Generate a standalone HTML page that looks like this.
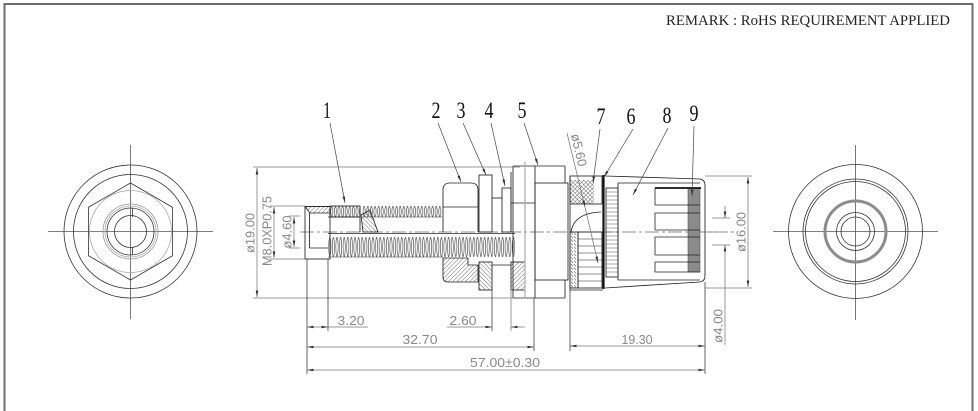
<!DOCTYPE html>
<html><head><meta charset="utf-8"><style>
html,body{margin:0;padding:0;background:#fff;}
svg{display:block;}
</style></head><body>
<svg width="978" height="411" viewBox="0 0 978 411" xmlns="http://www.w3.org/2000/svg">
<defs>
<pattern id="hA" patternUnits="userSpaceOnUse" width="3" height="3" patternTransform="rotate(45)"><line x1="0" y1="0" x2="0" y2="3" stroke="#333" stroke-width="0.7"/></pattern>
<pattern id="hB" patternUnits="userSpaceOnUse" width="3" height="3" patternTransform="rotate(-45)"><line x1="0" y1="0" x2="0" y2="3" stroke="#333" stroke-width="0.7"/></pattern>
<pattern id="thL" patternUnits="userSpaceOnUse" x="328" y="237" width="3.6" height="20"><path d="M1.8,0 C0.3,4 0.3,16 1.8,20 M1.8,0 C3.3,4 3.3,16 1.8,20" fill="none" stroke="#333" stroke-width="0.55"/></pattern>
<pattern id="thU" patternUnits="userSpaceOnUse" x="330" y="206" width="3.6" height="11"><path d="M1.8,0 C0.3,3 0.3,8 1.8,11 M1.8,0 C3.3,3 3.3,8 1.8,11" fill="none" stroke="#333" stroke-width="0.55"/></pattern>
<pattern id="kn" patternUnits="userSpaceOnUse" x="570" y="232" width="7" height="3.5"><path d="M1,0.5 L3,3 M4,0.5 L6,3" stroke="#444" stroke-width="0.6"/></pattern>
<marker id="a" viewBox="0 0 10 4" refX="10" refY="2" markerWidth="7" markerHeight="2.6" orient="auto-start-reverse" markerUnits="userSpaceOnUse"><path d="M0,0 L10,2 L0,4z" fill="#333"/></marker>
</defs>
<rect width="978" height="411" fill="#fff"/>
<path d="M4.5,411 V4 H972.5 V411" fill="none" stroke="#6e6e6e" stroke-width="2"/>
<text x="666" y="25" font-family="Liberation Serif, serif" font-size="15" textLength="284" lengthAdjust="spacingAndGlyphs" fill="#222">REMARK : RoHS REQUIREMENT APPLIED</text>

<!-- LEFT VIEW -->
<g fill="none" stroke="#333" stroke-width="0.8">
<line x1="130.5" y1="145" x2="130.5" y2="319" stroke="#555"/>
<line x1="48" y1="231.5" x2="213" y2="231.5" stroke="#555"/>
<circle cx="130.5" cy="231.5" r="66.5"/>
<circle cx="130.5" cy="231.5" r="57"/>
<polygon points="130.5,183 172.5,207.25 172.5,255.75 130.5,280 88.5,255.75 88.5,207.25"/>
<circle cx="130.5" cy="231.5" r="41" stroke="#aaa"/>
<circle cx="130.5" cy="231.5" r="27.5" stroke="#999"/>
<circle cx="130.5" cy="231.5" r="25.5" stroke="#aaa"/>
<circle cx="130.5" cy="231.5" r="23.5"/>
<circle cx="130.5" cy="231.5" r="16"/>
<line x1="132.5" y1="208" x2="132.5" y2="217"/>
<line x1="132.5" y1="247" x2="132.5" y2="255"/>
</g>

<!-- RIGHT VIEW -->
<g fill="none" stroke="#333" stroke-width="0.8">
<line x1="855.5" y1="145" x2="855.5" y2="320" stroke="#555"/>
<line x1="773" y1="231.5" x2="938" y2="231.5" stroke="#555"/>
<circle cx="855.5" cy="231.5" r="67"/>
<circle cx="855.5" cy="231.5" r="52.5"/>
<circle cx="855.5" cy="231.5" r="50"/>
<circle cx="855.5" cy="231.5" r="30.5" stroke="#8c8c8c" stroke-width="3"/>
<circle cx="855.5" cy="231.5" r="19"/>
<circle cx="855.5" cy="231.5" r="14.5"/>
</g>

<!-- MAIN VIEW centerline -->
<line x1="300" y1="232" x2="736" y2="232" stroke="#666" stroke-width="0.7" stroke-dasharray="14,3,3,3"/>

<g fill="none" stroke="#222" stroke-width="0.85">
<!-- sleeve (part 1) -->
<rect x="305" y="206.5" width="25" height="52.5"/>
<polygon points="305,206.5 330,206.5 330,213 310,213" fill="url(#hA)"/>
<line x1="309.5" y1="213" x2="309.5" y2="248"/>
<line x1="309.5" y1="248" x2="328" y2="248"/>
<rect x="330" y="206" width="30" height="11" fill="url(#thU)"/>
<line x1="328" y1="217" x2="360" y2="217"/>
<line x1="360" y1="206" x2="360" y2="232"/>
<polygon points="361,215 370,210 378,232 363,232" fill="url(#hB)"/>
<rect x="362" y="206" width="80" height="11" fill="url(#thU)" stroke="none"/>
<line x1="362" y1="217" x2="442" y2="217" stroke-width="0.5"/>
<!-- long rod -->
<line x1="328" y1="233.5" x2="515" y2="233.5"/>
<rect x="328" y="237" width="187" height="20" fill="url(#thL)" stroke="none"/>
<line x1="328" y1="257" x2="443" y2="257" stroke-width="0.5"/>
<!-- nut 2 -->
<path d="M443,232 V190 Q443,183 450,183 H471 Q478,183 478,190 V232"/>
<line x1="443" y1="207" x2="478" y2="207"/>
<path d="M443,258 H468 V265 H478 V282 H448 Q443,282 443,277 Z" fill="url(#hA)"/>
<!-- washer 3 -->
<rect x="479" y="175" width="13" height="57"/>
<rect x="479" y="262" width="13" height="28" fill="url(#hB)"/>
<line x1="492" y1="198" x2="502" y2="198"/>
<!-- part 4 -->
<rect x="502" y="188" width="9" height="44"/>
<line x1="492" y1="265" x2="511" y2="265"/>
<rect x="511" y="262" width="14" height="28" fill="url(#hA)"/>
<line x1="511" y1="172" x2="511" y2="232"/>
<line x1="511" y1="203" x2="535" y2="203"/>
<!-- part 5 -->
<line x1="513" y1="166" x2="565" y2="166"/>
<line x1="513" y1="166" x2="513" y2="298"/>
<line x1="513" y1="298" x2="565" y2="298"/>
<line x1="565" y1="166" x2="565" y2="183"/>
<line x1="565" y1="280" x2="565" y2="298"/>
<line x1="535" y1="166" x2="535" y2="298"/>
<rect x="535" y="183" width="33" height="97"/>
<!-- part 6/7 -->
<rect x="570" y="176" width="32" height="28"/>
<rect x="570" y="180" width="24" height="24" fill="url(#hA)" stroke="none"/>
<rect x="570" y="180" width="24" height="24" fill="url(#hB)" stroke="none"/>
<line x1="570" y1="176" x2="570" y2="290"/>
<path d="M571,232 Q574,213 601,212"/>
<rect x="570" y="232" width="8" height="56" fill="url(#kn)"/>
<rect x="578" y="232" width="24" height="56"/>
<path d="M578,239 H602 M578,246 H602 M578,253 H602 M578,260 H602 M578,267 H602 M578,274 H602 M578,281 H602" stroke-width="0.6"/>
<line x1="570" y1="290" x2="603" y2="290"/>
<!-- part 8 -->
<line x1="603.5" y1="175" x2="603.5" y2="289" stroke-width="2.2" stroke="#111"/>
<rect x="606" y="188" width="12" height="89"/>
<path d="M606,192 H618 M606,196 H618 M606,200 H618 M606,204 H618 M606,208 H618 M606,212 H618 M606,216 H618 M606,220 H618 M606,224 H618 M606,228 H618 M606,232 H618 M606,236 H618 M606,240 H618 M606,244 H618 M606,248 H618 M606,252 H618 M606,256 H618 M606,260 H618 M606,264 H618 M606,268 H618 M606,272 H618" stroke-width="0.5" stroke="#555"/>
<path d="M605,176 L700,179 Q705,180 705,185 V276 Q705,281 700,282 L605,288"/>
<line x1="618" y1="183" x2="700" y2="183"/>
<line x1="618" y1="280" x2="700" y2="280"/>
<line x1="618" y1="183" x2="618" y2="280"/>
<rect x="688" y="188" width="12" height="84" fill="#8a8a8a" stroke="#555" stroke-width="0.6"/>
<line x1="655" y1="188" x2="701" y2="188" stroke-width="1.8" stroke="#111"/>
<path d="M655,205 H700 M655,213 H700 M655,230 H700 M655,237 H700 M655,255 H700 M655,262 H700 M655,272 H700" stroke-width="0.7"/>
<path d="M655,188 V205 M655,213 V230 M655,237 V255 M655,262 V272" stroke-width="0.8"/>
</g>

<!-- DIMENSIONS -->
<g fill="none" stroke="#777" stroke-width="0.75">
<line x1="253" y1="167" x2="520" y2="167"/>
<line x1="253" y1="298" x2="513" y2="298"/>
<line x1="257" y1="168" x2="257" y2="297" marker-start="url(#a)" marker-end="url(#a)"/>
<line x1="270" y1="206" x2="305" y2="206"/>
<line x1="270" y1="259" x2="305" y2="259"/>
<line x1="274" y1="207" x2="274" y2="258" marker-start="url(#a)" marker-end="url(#a)"/>
<line x1="289" y1="216" x2="300" y2="216"/>
<line x1="289" y1="248" x2="300" y2="248"/>
<line x1="294" y1="217" x2="294" y2="247" marker-start="url(#a)" marker-end="url(#a)"/>
<line x1="307" y1="259" x2="307" y2="374" stroke="#333"/>
<line x1="328" y1="259" x2="328" y2="331" stroke="#333"/>
<line x1="492" y1="290" x2="492" y2="331" stroke="#333"/>
<line x1="511" y1="290" x2="511" y2="331" stroke="#aaa" stroke-width="1.2"/>
<line x1="525" y1="162" x2="525" y2="298" stroke="#aaa" stroke-width="1.2"/>
<line x1="534" y1="298" x2="534" y2="351" stroke="#333"/>
<line x1="570" y1="290" x2="570" y2="351" stroke="#333"/>
<line x1="705" y1="282" x2="705" y2="374" stroke="#333"/>
<line x1="307" y1="327" x2="328" y2="327" marker-start="url(#a)" marker-end="url(#a)"/>
<line x1="328" y1="327" x2="368" y2="327"/>
<line x1="447" y1="327" x2="492" y2="327" marker-end="url(#a)"/>
<line x1="525" y1="327" x2="511" y2="327" marker-end="url(#a)"/>
<line x1="307" y1="347" x2="534" y2="347" marker-start="url(#a)" marker-end="url(#a)"/>
<line x1="570" y1="346" x2="705" y2="346" marker-start="url(#a)" marker-end="url(#a)"/>
<line x1="307" y1="370" x2="705" y2="370" marker-start="url(#a)" marker-end="url(#a)"/>
<line x1="705" y1="176" x2="752" y2="176"/>
<line x1="705" y1="288" x2="752" y2="288"/>
<line x1="748" y1="177" x2="748" y2="287" marker-start="url(#a)" marker-end="url(#a)"/>
<line x1="705" y1="232" x2="716" y2="232"/>
<line x1="712" y1="218" x2="730" y2="218"/>
<line x1="712" y1="245" x2="730" y2="245"/>
<line x1="725" y1="206" x2="725" y2="218" marker-end="url(#a)"/>
<line x1="725" y1="345" x2="725" y2="245" marker-end="url(#a)"/>
<line x1="567" y1="133" x2="585" y2="207" marker-end="url(#a)"/>
<line x1="585" y1="207" x2="598" y2="263" marker-end="url(#a)"/>
</g>

<g font-family="Liberation Sans, sans-serif" font-size="13" fill="#888" text-anchor="middle">
<text x="351" y="325" textLength="27" lengthAdjust="spacingAndGlyphs">3.20</text>
<text x="463" y="325" textLength="27" lengthAdjust="spacingAndGlyphs">2.60</text>
<text x="420" y="344" textLength="35" lengthAdjust="spacingAndGlyphs">32.70</text>
<text x="637" y="344" textLength="31" lengthAdjust="spacingAndGlyphs">19.30</text>
<text x="505" y="367" textLength="70" lengthAdjust="spacingAndGlyphs">57.00±0.30</text>
<text transform="translate(250,233) rotate(-90)" dominant-baseline="central" textLength="40" lengthAdjust="spacingAndGlyphs">ø19.00</text>
<text transform="translate(267,231) rotate(-90)" dominant-baseline="central" textLength="70" lengthAdjust="spacingAndGlyphs">M8.0XP0.75</text>
<text transform="translate(287,232) rotate(-90)" dominant-baseline="central" textLength="33" lengthAdjust="spacingAndGlyphs">ø4.60</text>
<text transform="translate(741,232) rotate(-90)" dominant-baseline="central" textLength="40" lengthAdjust="spacingAndGlyphs">ø16.00</text>
<text transform="translate(718,326) rotate(-90)" dominant-baseline="central" textLength="34" lengthAdjust="spacingAndGlyphs">ø4.00</text>
<text transform="translate(579,150) rotate(77)" dominant-baseline="central" textLength="33" lengthAdjust="spacingAndGlyphs">ø5.60</text>
</g>

<!-- LABELS -->
<g font-family="Liberation Serif, serif" font-size="23" fill="#111" text-anchor="middle">
<text x="327" y="118" textLength="8" lengthAdjust="spacingAndGlyphs">1</text>
<text x="436" y="118" textLength="9" lengthAdjust="spacingAndGlyphs">2</text>
<text x="461" y="118" textLength="9" lengthAdjust="spacingAndGlyphs">3</text>
<text x="489" y="118" textLength="9" lengthAdjust="spacingAndGlyphs">4</text>
<text x="522" y="118" textLength="9" lengthAdjust="spacingAndGlyphs">5</text>
<text x="601" y="124" textLength="9" lengthAdjust="spacingAndGlyphs">7</text>
<text x="631" y="124" textLength="9" lengthAdjust="spacingAndGlyphs">6</text>
<text x="667" y="123" textLength="9" lengthAdjust="spacingAndGlyphs">8</text>
<text x="694" y="121" textLength="9" lengthAdjust="spacingAndGlyphs">9</text>
</g>
<g fill="none" stroke="#444" stroke-width="0.7">
<line x1="330" y1="123" x2="345" y2="203" marker-end="url(#a)"/>
<line x1="438" y1="123" x2="461" y2="182" marker-end="url(#a)"/>
<line x1="463" y1="123" x2="486" y2="175" marker-end="url(#a)"/>
<line x1="491" y1="123" x2="505" y2="186" marker-end="url(#a)"/>
<line x1="524" y1="123" x2="538" y2="165" marker-end="url(#a)"/>
<line x1="600" y1="129" x2="593" y2="183" marker-end="url(#a)"/>
<line x1="633" y1="129" x2="604" y2="177" marker-end="url(#a)"/>
<line x1="668" y1="128" x2="633" y2="195" marker-end="url(#a)"/>
<line x1="694" y1="126" x2="692" y2="196" marker-end="url(#a)"/>
</g>
</svg>
</body></html>
